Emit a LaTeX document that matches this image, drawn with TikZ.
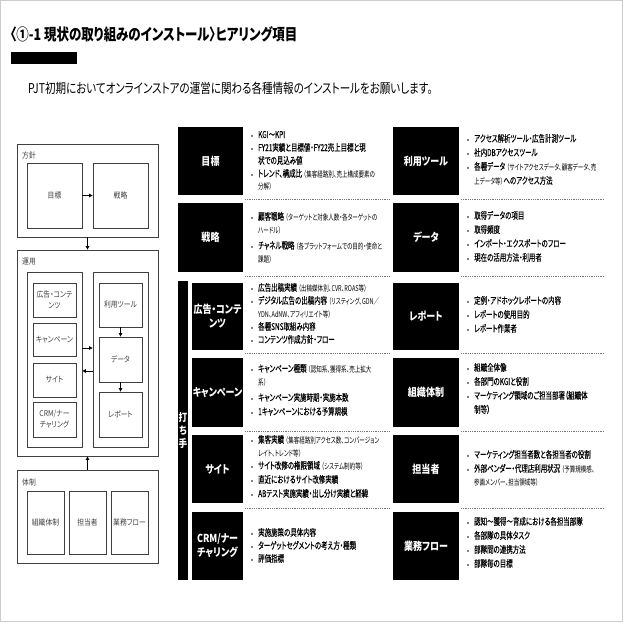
\documentclass[tikz,border=0pt]{standalone}
\usepackage{fontspec}
\usetikzlibrary{arrows.meta}
\newfontfamily\jp[FakeStretch=0.68,FakeBold=0.2,RawFeature=+palt]{Noto Sans CJK JP}
\newfontfamily\jps[FakeStretch=0.69,RawFeature=+palt]{Noto Sans CJK JP}
\newfontfamily\jpt[FakeStretch=0.78,RawFeature=+palt]{Noto Sans CJK JP}
\newfontfamily\jpl[FakeStretch=0.82,RawFeature=+palt]{Noto Sans CJK JP}
\newfontfamily\jpd[FakeStretch=0.85,RawFeature=+palt]{Noto Sans CJK JP}
\newcommand\smtx[1]{{\jps\fontsize{8}{9}\selectfont #1}}
\newcommand\bul{\makebox[7pt][l]{{\fontsize{7}{8}\selectfont •}}}
\tikzset{
  bt/.style={anchor=west, inner sep=0pt, font=\jp\fontsize{9.5}{11}\selectfont, text height=8pt, text depth=2pt},
  blk/.style={fill=black, inner sep=0pt, text=white, align=center, font=\jpl\bfseries\fontsize{11}{14}\selectfont},
  dbox/.style={draw=black!75, line width=0.8pt, inner sep=0pt, align=center, text=black!75, font=\jpd\fontsize{8}{11}\selectfont},
  dlab/.style={anchor=west, inner sep=0pt, text=black!75, font=\jpd\fontsize{8}{10}\selectfont},
  arr/.style={-{Triangle[length=3.5pt,width=3.5pt]}, line width=0.8pt, black},
  sep/.style={draw=black!55, line width=0.7pt, dash pattern=on 0.9pt off 0.9pt}
}
\begin{document}
\begin{tikzpicture}[x=1pt,y=-1pt]
\useasboundingbox (0,0) rectangle (623,623);
\draw[black!20, line width=0.8pt] (0.5,0.5) rectangle (622,621);

% title
\node[anchor=west, inner sep=0pt] (title) at (10,34) {\jpt\bfseries\fontsize{16}{18}\selectfont 〈①-1 現状の取り組みのインストール〉ヒアリング項目};
\fill[black] (11,52) rectangle (77,64);
\node[anchor=west, inner sep=0pt] (sub) at (28,88) {\jpt\fontsize{13.5}{16}\selectfont PJT初期においてオンラインストアの運営に関わる各種情報のインストールをお願いします。};

% left diagram
\node[dbox, minimum width=141pt, minimum height=93pt] (hoshin) at (87.5,190.5) {};
\node[dlab] (hoshinL) at (22,155) {方針};
\node[dbox, minimum width=55pt, minimum height=65pt] (mokuhyo) at (54.5,195.5) {目標};
\node[dbox, minimum width=55pt, minimum height=65pt] (senryaku) at (120.5,195.5) {戦略};
\node[dbox, minimum width=141pt, minimum height=206pt] (unyo) at (87.5,353) {};
\node[dlab] (unyoL) at (22,262) {運用};
\node[dbox, minimum width=55pt, minimum height=175pt] (leftgrp) at (54.5,359.5) {};
\node[dbox, minimum width=55pt, minimum height=175pt] (rightgrp) at (120.5,359.5) {};
\node[dbox, minimum width=43pt, minimum height=34pt] (koukoku) at (54.5,300) {広告・コンテ\\ンツ};
\node[dbox, minimum width=43pt, minimum height=33pt] (camp) at (54.5,339.5) {キャンペーン};
\node[dbox, minimum width=43pt, minimum height=34pt] (site) at (54.5,380) {サイト};
\node[dbox, minimum width=43pt, minimum height=35pt] (crm) at (54.5,419.5) {CRM/ナー\\チャリング};
\node[dbox, minimum width=43pt, minimum height=44pt] (tool) at (120.5,305) {利用ツール};
\node[dbox, minimum width=43pt, minimum height=45pt] (data) at (120.5,359.5) {データ};
\node[dbox, minimum width=43pt, minimum height=45pt] (report) at (120.5,414.5) {レポート};
\node[dbox, minimum width=141pt, minimum height=93pt] (taisei) at (87.5,516.5) {};
\node[dlab] (taiseiL) at (22,482) {体制};
\node[dbox, minimum width=37pt, minimum height=63pt] (soshiki) at (45.5,522.5) {組織体制};
\node[dbox, minimum width=37pt, minimum height=63pt] (tanto) at (87.5,522.5) {担当者};
\node[dbox, minimum width=37pt, minimum height=63pt] (gyomu) at (129.5,522.5) {業務フロー};

\draw[arr] (mokuhyo.east) -- (senryaku.west);
\draw[arr] (hoshin.south) -- (unyo.north);
\draw[arr] ([yshift=11.5pt]leftgrp.east) -- ([yshift=11.5pt]rightgrp.west);
\draw[arr] ([yshift=-11.5pt]rightgrp.west) -- ([yshift=-11.5pt]leftgrp.east);
\draw[arr] (tool.south) -- (data.north);
\draw[arr] (data.south) -- (report.north);
\draw[arr] (taisei.north) -- (unyo.south);

% middle column boxes
\node[blk, minimum width=65pt, minimum height=68pt] (mokuhyoB) at (210.5,161) {目標};
\node[blk, minimum width=65pt, minimum height=69pt] (senryakuB) at (210.5,237.5) {戦略};
\node[blk, minimum width=10pt, minimum height=299pt, font=\jpl\bfseries\fontsize{10.5}{13}\selectfont] (uchite) at (183,430.5) {打\\ち\\手};
\node[blk, minimum width=51pt, minimum height=67pt] (kokokuB) at (217.5,316.5) {広告・コンテ\\ンツ};
\node[blk, minimum width=51pt, minimum height=69pt] (campB) at (217.5,392.5) {キャンペーン};
\node[blk, minimum width=51pt, minimum height=68pt] (siteB) at (217.5,469) {サイト};
\node[blk, minimum width=51pt, minimum height=68pt] (crmB) at (217.5,546) {CRM/ナー\\チャリング};

% right column boxes
\node[blk, minimum width=66pt, minimum height=68pt] (toolB) at (426,161) {利用ツール};
\node[blk, minimum width=66pt, minimum height=69pt] (dataB) at (426,237.5) {データ};
\node[blk, minimum width=66pt, minimum height=67pt] (reportB) at (426,316.5) {レポート};
\node[blk, minimum width=66pt, minimum height=69pt] (soshikiB) at (426,392.5) {組織体制};
\node[blk, minimum width=66pt, minimum height=68pt] (tantoB) at (426,469) {担当者};
\node[blk, minimum width=66pt, minimum height=68pt] (gyomuB) at (426,546) {業務フロー};

% separators
\foreach \yy in {199,276,353,431,508}{
  \draw[sep] (245,\yy) -- (390,\yy);
  \draw[sep] (461,\yy) -- (604,\yy);
}

% middle bullets
\node[bt] (m1a) at (251,135) {\bul KGI～KPI};
\node[bt] (m1b) at (251,148) {\bul FY21実績と目標値・FY22売上目標と現};
\node[bt] (m1c) at (258,161) {状での見込み値};
\node[bt] (m1d) at (251,174) {\bul トレンド、構成比 \smtx{（集客経路別、売上構成要素の}};
\node[bt] (m1e) at (258,186) {\smtx{分解）}};

\node[bt] (m2a) at (251,217) {\bul 顧客戦略 \smtx{（ターゲットと対象人数・各ターゲットの}};
\node[bt] (m2b) at (258,230) {\smtx{ハードル）}};
\node[bt] (m2c) at (251,246) {\bul チャネル戦略 \smtx{（各プラットフォームでの目的・使命と}};
\node[bt] (m2d) at (258,259) {\smtx{課題）}};

\node[bt] (m3a) at (251,288) {\bul 広告出稿実績 \smtx{（出稿媒体別、CVR、ROAS等）}};
\node[bt] (m3b) at (251,301) {\bul デジタル広告の出稿内容 \smtx{（リスティング、GDN／}};
\node[bt] (m3c) at (258,314) {\smtx{YDN、AdNW、アフィリエイト等）}};
\node[bt] (m3d) at (251,327) {\bul 各種SNS取組み内容};
\node[bt] (m3e) at (251,340) {\bul コンテンツ作成方針・フロー};

\node[bt] (m4a) at (251,369) {\bul キャンペーン種類 \smtx{（認知系、獲得系、売上拡大}};
\node[bt] (m4b) at (258,382) {\smtx{系）}};
\node[bt] (m4c) at (251,398) {\bul キャンペーン実施時期・実施本数};
\node[bt] (m4d) at (251,412) {\bul 1キャンペーンにおける予算規模};

\node[bt] (m5a) at (251,440) {\bul 集客実績 \smtx{（集客経路別アクセス数、コンバージョン}};
\node[bt] (m5b) at (258,453) {\smtx{レイト、トレンド等）}};
\node[bt] (m5c) at (251,466) {\bul サイト改修の権限領域 \smtx{（システム制約等）}};
\node[bt] (m5d) at (251,480) {\bul 直近におけるサイト改修実績};
\node[bt] (m5e) at (251,494) {\bul ABテスト実施実績・出し分け実績と経緯};

\node[bt] (m6a) at (251,533) {\bul 実施施策の具体内容};
\node[bt] (m6b) at (251,546) {\bul ターゲットセグメントの考え方・種類};
\node[bt] (m6c) at (251,559) {\bul 評価指標};

% right bullets
\node[bt] (r1a) at (467,139) {\bul アクセス解析ツール・広告計測ツール};
\node[bt] (r1b) at (467,153) {\bul 社内DBアクセスツール};
\node[bt] (r1c) at (467,167) {\bul 各種データ \smtx{（サイトアクセスデータ、顧客データ、売}};
\node[bt] (r1d) at (474,181) {\smtx{上データ等）}へのアクセス方法};

\node[bt] (r2a) at (467,216) {\bul 取得データの項目};
\node[bt] (r2b) at (467,230) {\bul 取得頻度};
\node[bt] (r2c) at (467,244) {\bul インポート・エクスポートのフロー};
\node[bt] (r2d) at (467,258) {\bul 現在の活用方法・利用者};

\node[bt] (r3a) at (467,301) {\bul 定例・アドホックレポートの内容};
\node[bt] (r3b) at (467,315) {\bul レポートの使用目的};
\node[bt] (r3c) at (467,329) {\bul レポート作業者};

\node[bt] (r4a) at (467,368) {\bul 組織全体像};
\node[bt] (r4b) at (467,382) {\bul 各部門のKGIと役割};
\node[bt] (r4c) at (467,396) {\bul マーケティング領域のご担当部署（組織体};
\node[bt] (r4d) at (474,410) {制等）};

\node[bt] (r5a) at (467,455) {\bul マーケティング担当者数と各担当者の役割};
\node[bt] (r5b) at (467,469) {\bul 外部ベンダー・代理店利用状況 \smtx{（予算規模感、}};
\node[bt] (r5c) at (474,482) {\smtx{参画メンバー、担当領域等）}};

\node[bt] (r6a) at (467,522) {\bul 認知～獲得～育成における各担当部隊};
\node[bt] (r6b) at (467,536) {\bul 各部隊の具体タスク};
\node[bt] (r6c) at (467,550) {\bul 部隊間の連携方法};
\node[bt] (r6d) at (467,564) {\bul 部隊毎の目標};
\end{tikzpicture}
\end{document}
